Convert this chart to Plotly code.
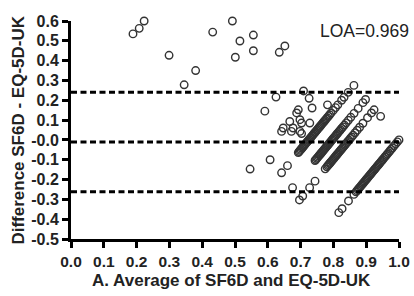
import plotly.graph_objects as go

# ---------------- data ----------------
# Isolated points given directly as (average, difference)
iso_avg = [0.189, 0.208, 0.223, 0.299, 0.345, 0.380, 0.432, 0.492, 0.515, 0.501,
           0.556, 0.556, 0.635, 0.652, 0.625, 0.591, 0.709, 0.726, 0.735, 0.782,
           0.693, 0.688, 0.667, 0.647, 0.642, 0.698, 0.703, 0.728, 0.698, 0.703,
           0.677, 0.672, 0.944, 0.546, 0.607]
iso_diff = [0.535, 0.563, 0.600, 0.427, 0.278, 0.350, 0.544, 0.600, 0.499, 0.417,
            0.529, 0.450, 0.442, 0.474, 0.216, 0.145, 0.247, 0.210, 0.161, 0.177,
            0.152, 0.136, 0.093, 0.060, 0.043, 0.102, 0.085, 0.085, 0.043, 0.032,
            0.060, 0.043, 0.119, -0.147, -0.100]

# Stripes: patients sharing the same EQ-5D-UK value, SF6D values listed
eq_a = 0.725
sf6d_a = [0.559, 0.595, 0.661, 0.666, 0.672, 0.677, 0.683, 0.688, 0.694, 0.699,
          0.705, 0.711, 0.716, 0.722, 0.727, 0.733, 0.738, 0.744, 0.749, 0.755,
          0.761, 0.766, 0.772, 0.777, 0.783, 0.788, 0.794, 0.800, 0.806, 0.812,
          0.818, 0.824, 0.830, 0.837, 0.844, 0.852, 0.861, 0.874, 0.888, 0.902,
          0.925, 0.940, 0.965, 1.000]
eq_b = 0.796
sf6d_b = [0.555, 0.692, 0.697, 0.703, 0.708, 0.714, 0.719, 0.725, 0.730, 0.736,
          0.741, 0.747, 0.752, 0.758, 0.763, 0.769, 0.774, 0.780, 0.785, 0.791,
          0.797, 0.803, 0.809, 0.815, 0.821, 0.827, 0.833, 0.840, 0.847, 0.854,
          0.862, 0.871, 0.882, 0.895, 0.910, 0.930, 0.955, 0.984, 1.000]
eq_c = 0.848
sf6d_c = [0.545, 0.565, 0.607, 0.640, 0.702, 0.712, 0.718, 0.723, 0.729, 0.734,
          0.740, 0.745, 0.751, 0.756, 0.762, 0.767, 0.773, 0.778, 0.784, 0.790,
          0.796, 0.802, 0.808, 0.814, 0.820, 0.826, 0.833, 0.840, 0.847, 0.855,
          0.863, 0.872, 0.884, 0.897, 0.912, 0.932, 0.960, 0.984, 1.000]
eq_d = 1.000
sf6d_d = [0.633, 0.653, 0.692, 0.725, 0.738, 0.744, 0.750, 0.756, 0.762, 0.768,
          0.774, 0.780, 0.786, 0.792, 0.798, 0.804, 0.810, 0.816, 0.822, 0.828,
          0.834, 0.840, 0.846, 0.852, 0.858, 0.864, 0.870, 0.876, 0.882, 0.888,
          0.894, 0.900, 0.907, 0.914, 0.921, 0.928, 0.936, 0.944, 0.952, 0.960,
          0.970, 0.980, 0.990, 1.000]

mean_diff = -0.010
upper_loa = 0.240
lower_loa = -0.262
loa_label = "LOA=0.969"
x_title = "A. Average of SF6D and EQ-5D-UK"
y_title = "Difference SF6D - EQ-5D-UK"

x_ticks = [0.0, 0.1, 0.2, 0.3, 0.4, 0.5, 0.6, 0.7, 0.8, 0.9, 1.0]
x_ticktext = ["0.0", "0.1", "0.2", "0.3", "0.4", "0.5", "0.6", "0.7", "0.8", "0.9", "1.0"]
y_ticks = [0.6, 0.5, 0.4, 0.3, 0.2, 0.1, 0.0, -0.1, -0.2, -0.3, -0.4, -0.5]
y_ticktext = ["0.6", "0.5", "0.4", "0.3", "0.2", "0.1", "-0.0", "-0.1", "-0.2", "-0.3", "-0.4", "-0.5"]

# ---------------- build points ----------------
avg = list(iso_avg)
diff = list(iso_diff)
for eq, sfs in [(eq_a, sf6d_a), (eq_b, sf6d_b), (eq_c, sf6d_c), (eq_d, sf6d_d)]:
    for s in sfs:
        avg.append((s + eq) / 2.0)
        diff.append(s - eq)

FONT = "Liberation Sans, Arial, Helvetica, sans-serif"
W, H = 414, 296
ML, MR, MT, MB = 71, 14.5, 20.5, 56.5
PW, PH = W - ML - MR, H - MT - MB

fig = go.Figure()
fig.add_trace(go.Scatter(
    x=avg, y=diff, mode="markers",
    marker=dict(symbol="circle-open", size=7.5, color="#333333",
                line=dict(width=1.4, color="#333333")),
    cliponaxis=False, showlegend=False, hoverinfo="skip"))

for yv in [upper_loa, mean_diff, lower_loa]:
    fig.add_shape(type="line", xref="x", yref="y", x0=0.0, x1=1.0, y0=yv, y1=yv,
                  line=dict(color="black", width=3, dash="6px,3.5px"), layer="above")

fig.add_annotation(text=loa_label, xref="paper", yref="paper",
                   x=(411.5 - ML) / PW, y=(H - MB - 30.7) / PH,
                   xanchor="right", yanchor="middle", showarrow=False,
                   font=dict(family=FONT, size=17.5, color="#222"))
# axis titles as positioned text
fig.add_annotation(text=x_title, xref="paper", yref="paper",
                   x=(232 - ML) / PW, y=(H - MB - 281) / PH,
                   xanchor="center", yanchor="middle", showarrow=False,
                   font=dict(family=FONT, size=17, color="#222", weight="bold"))
fig.add_annotation(text=y_title, xref="paper", yref="paper", textangle=-90,
                   x=(17.5 - ML) / PW, y=(H - MB - 130) / PH,
                   xanchor="center", yanchor="middle", showarrow=False,
                   font=dict(family=FONT, size=17, color="#222", weight="bold"))

axis_common = dict(showline=True, linecolor="black", linewidth=3, ticks="outside",
                   ticklen=6, tickwidth=3, tickcolor="black", showgrid=False,
                   zeroline=False, mirror=False, automargin=False)
fig.update_xaxes(range=[0, 1.0], tickvals=x_ticks, ticktext=x_ticktext,
                 tickfont=dict(family=FONT, size=15.5, color="#222", weight="bold"),
                 **axis_common)
fig.update_yaxes(range=[-0.5, 0.6], tickvals=y_ticks, ticktext=y_ticktext,
                 tickfont=dict(family=FONT, size=16, color="#222", weight="bold"),
                 **axis_common)
fig.update_layout(width=W, height=H, margin=dict(l=ML, r=MR, t=MT, b=MB, autoexpand=False),
                  plot_bgcolor="white", paper_bgcolor="white",
                  font=dict(family=FONT, color="#222"))

fig.write_html("out.html", config={"displayModeBar": False},
               post_script="document.body.style.margin='0';document.body.style.overflow='hidden';")
